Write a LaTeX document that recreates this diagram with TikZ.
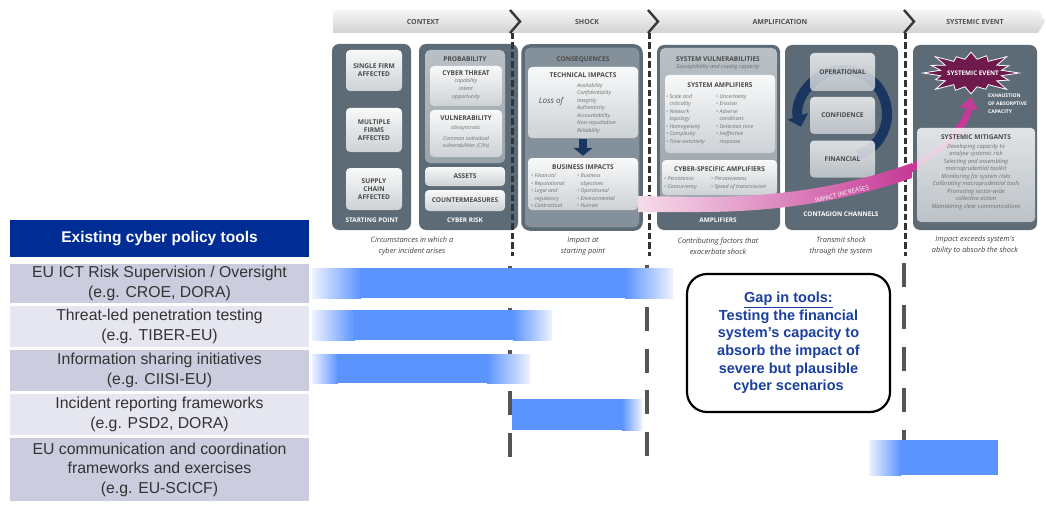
\documentclass[tikz,border=0pt]{standalone}
\usepackage{fontspec}
\setmainfont{Liberation Sans}
\newfontfamily\gf{Open Sans}
\usetikzlibrary{arrows.meta}
\definecolor{panelc}{HTML}{5C6B76}
\definecolor{p3c}{HTML}{85919A}
\definecolor{boxt}{HTML}{F8F9F9}
\definecolor{boxb}{HTML}{CDD2D6}
\definecolor{medt}{HTML}{BAC1C6}
\definecolor{medb}{HTML}{9AA3AA}
\definecolor{titc}{HTML}{4A4A4A}
\definecolor{itc}{HTML}{6E6E6E}
\definecolor{capc}{HTML}{404040}
\definecolor{hdrc}{HTML}{505050}
\definecolor{chevc}{HTML}{383838}
\definecolor{banl}{HTML}{F6F6F6}
\definecolor{band}{HTML}{D2D2D2}
\definecolor{navyc}{HTML}{1B3561}
\definecolor{starc}{HTML}{6E1A4D}
\definecolor{pinkl}{HTML}{F6DCEA}
\definecolor{pinkd}{HTML}{C63A97}
\definecolor{barc}{HTML}{5C94FF}
\definecolor{fadec}{HTML}{EEF3FF}
\definecolor{hdrblue}{HTML}{002C96}
\definecolor{rowd}{HTML}{CBCCDE}
\definecolor{rowl}{HTML}{E6E6F0}
\definecolor{rowtc}{HTML}{333333}
\definecolor{gapc}{HTML}{1A3F9E}
\definecolor{dashc}{HTML}{555555}
\definecolor{udashc}{HTML}{333333}
\begin{document}
\begin{tikzpicture}[x=1pt,y=-1pt,
  panel/.style={fill=panelc, rounded corners=7pt, inner sep=0pt},
  lbox/.style={top color=boxt, bottom color=boxb, rounded corners=4pt, inner sep=0pt},
  mbox/.style={top color=medt, bottom color=medb, rounded corners=5pt, inner sep=0pt},
  ttl/.style={font=\gf\bfseries\fontsize{6.6}{8}\selectfont, text=titc, inner sep=0pt, align=center},
  itm/.style={font=\gf\itshape\fontsize{5.3}{7.5}\selectfont, text=itc, inner sep=0pt},
  plab/.style={font=\gf\bfseries\fontsize{6.4}{7}\selectfont, text=white, inner sep=0pt},
  capt/.style={font=\gf\itshape\fontsize{7.4}{10.5}\selectfont, text=capc, align=center, inner sep=0pt},
  hdr/.style={font=\gf\bfseries\fontsize{7}{8}\selectfont, text=hdrc, inner sep=0pt},
  chev/.style={draw=chevc, line width=2.4pt},
  updash/.style={draw=udashc, line width=3pt, dash pattern=on 6.5pt off 3pt},
  rowbox/.style={inner sep=0pt, minimum width=299pt},
  rowtxt/.style={font=\fontsize{15.8}{19.5}\selectfont, text=rowtc, align=center},
  cbox/.style={lbox, fill opacity=0.82, text opacity=1, minimum width=65pt},
]
\useasboundingbox (0,0) rectangle (1046,516);
\fill[white] (0,0) rectangle (1046,516);

% ---------- banner ----------
\path[top color=banl, bottom color=band] (333,10) -- (1038,10) -- (1045,21.5) -- (1038,33) -- (333,33) -- cycle;
\draw[chev] (510,10) -- (520,21.5) -- (510,33);
\draw[chev] (648,10) -- (658,21.5) -- (648,33);
\draw[chev] (904,10) -- (914,21.5) -- (904,33);
\node[hdr] (hctx) at (423,22) {CONTEXT};
\node[hdr] (hsh) at (587,22) {SHOCK};
\node[hdr] (hamp) at (780,22) {AMPLIFICATION};
\node[hdr] (hsys) at (975,22) {SYSTEMIC EVENT};

% ---------- panel 1 ----------
\node[panel, minimum width=79pt, minimum height=186pt] (p1) at (371.5,137) {};
\node[lbox, ttl, minimum width=56pt, minimum height=41pt] (sf) at (374,70.5) {SINGLE FIRM\\AFFECTED};
\node[lbox, ttl, minimum width=56pt, minimum height=44pt] (mf) at (374,130) {MULTIPLE\\FIRMS\\AFFECTED};
\node[lbox, ttl, minimum width=56pt, minimum height=42pt] (sc) at (374,189) {SUPPLY\\CHAIN\\AFFECTED};
\node[plab] (p1l) at (372,220) {STARTING POINT};

% ---------- panel 2 ----------
\node[panel, minimum width=99pt, minimum height=186pt] (p2) at (468.5,137) {};
\node[mbox, minimum width=80pt, minimum height=113pt] (prob) at (465,106.5) {};
\node[ttl] (probt) at (465,59) {PROBABILITY};
\node[lbox, minimum width=72pt, minimum height=40pt] (ct) at (466,86) {};
\node[ttl] (ctt) at (466,73) {CYBER THREAT};
\node[itm, align=center, font=\gf\itshape\fontsize{5.3}{8}\selectfont] (cti) at (466,89) {capability\\intent\\opportunity};
\node[lbox, minimum width=72pt, minimum height=47pt] (vu) at (466,133.5) {};
\node[ttl] (vut) at (466,118) {VULNERABILITY};
\node[itm] (vu1) at (466,128) {Idiosyncratic};
\node[itm, align=center] (vu2) at (466,142.5) {Common individual\\vulnerabilities (CIVs)};
\node[lbox, ttl, minimum width=80pt, minimum height=19pt] (as) at (465,176.5) {ASSETS};
\node[lbox, ttl, minimum width=80pt, minimum height=21pt] (cm) at (465,200.5) {COUNTERMEASURES};
\node[plab] (p2l) at (465,220) {CYBER RISK};
\node[capt] (cap1) at (412,246) {Circumstances in which a\\cyber incident arises};

% ---------- panel 3 ----------
\node[panel, fill=p3c, draw=panelc, line width=3.5pt, minimum width=118pt, minimum height=183pt] (p3) at (582,137.5) {};
\node[ttl] (cons) at (583,60) {CONSEQUENCES};
\node[lbox, minimum width=110pt, minimum height=71pt] (tech) at (583,102.5) {};
\node[ttl] (techt) at (583,75) {TECHNICAL IMPACTS};
\node[font=\gf\itshape\fontsize{8}{9}\selectfont, text=titc, inner sep=0pt] (loss) at (551,101) {Loss of};
\node[itm, anchor=west, align=left] (techi) at (577,108.5) {Availability\\Confidentiality\\Integrity\\Authenticity\\Accountability\\Non-repudiation\\Reliability};
\node[lbox, minimum width=110pt, minimum height=52pt] (bus) at (583,184) {};
\node[ttl] (bust) at (583,167) {BUSINESS IMPACTS};
\node[itm, anchor=west, align=left] (busl) at (531,191) {\textbullet\ Financial\\\textbullet\ Reputational\\\textbullet\ Legal and\\\phantom{\textbullet\ }regulatory\\\textbullet\ Contractual};
\node[itm, anchor=west, align=left] (busr) at (577,191) {\textbullet\ Business\\\phantom{\textbullet\ }objectives\\\textbullet\ Operational\\\textbullet\ Environmental\\\textbullet\ Human};
\draw[navyc, line width=8pt, -{Triangle[length=8pt,width=19pt]}, shorten <=1pt, shorten >=2pt] (tech.south) -- (bus.north);
\node[capt] (cap2) at (583,246) {Impact at\\starting point};

% ---------- panel 4 ----------
\node[panel, minimum width=123pt, minimum height=185pt] (p4) at (718.5,137.5) {};
\node[mbox, minimum width=117pt, minimum height=151pt] (svr) at (718.5,123.5) {};
\node[ttl] (svrt) at (718,59) {SYSTEM VULNERABILITIES};
\node[itm, font=\gf\itshape\fontsize{5.6}{7}\selectfont] (svrs) at (718,67.5) {Susceptibility and coping capacity};
\node[lbox, minimum width=110pt, minimum height=78pt] (samp) at (720,114) {};
\node[ttl] (sampt) at (720,85) {SYSTEM AMPLIFIERS};
\node[itm, anchor=west, align=left] (sampl) at (666,119.5) {\textbullet\ Scale and\\\phantom{\textbullet\ }criticality\\\textbullet\ Network\\\phantom{\textbullet\ }topology\\\textbullet\ Homogeneity\\\textbullet\ Complexity\\\textbullet\ Time sensitivity};
\node[itm, anchor=west, align=left] (sampr) at (716,119.5) {\textbullet\ Uncertainty\\\textbullet\ Erosion\\\textbullet\ Adverse\\\phantom{\textbullet\ }conditions\\\textbullet\ Detection time\\\textbullet\ Ineffective\\\phantom{\textbullet\ }response};
\node[lbox, minimum width=115pt, minimum height=35pt] (csa) at (719.5,177.5) {};
\node[ttl] (csat) at (719.5,169) {CYBER-SPECIFIC AMPLIFIERS};
\node[itm, anchor=west, align=left] (csal) at (664,183) {\textbullet\ Persistence\\\textbullet\ Concurrency};
\node[itm, anchor=west, align=left] (csar) at (711,183) {\textbullet\ Pervasiveness\\\textbullet\ Speed of transmission};
\node[plab] (p4l) at (718,220) {AMPLIFIERS};
\node[capt] (cap3) at (718,246) {Contributing factors that\\exacerbate shock};

% ---------- panel 5 ----------
\node[panel, minimum width=113pt, minimum height=185pt] (p5) at (841.5,137.5) {};
\coordinate (rc) at (843,114);
\draw[navyc, line width=10pt, -{Triangle[length=11pt,width=21pt]}] (rc) ++(70:44) arc[start angle=70, end angle=-197, radius=44];
\node[cbox, ttl, minimum height=38pt] (op) at (842.5,72) {OPERATIONAL};
\node[cbox, ttl, minimum height=37pt] (conf) at (842.5,115.5) {CONFIDENCE};
\node[cbox, ttl, minimum height=37pt] (fin) at (842.5,159) {FINANCIAL};
\node[plab] (p5l) at (841,214) {CONTAGION CHANNELS};
\node[capt] (cap4) at (841,246) {Transmit shock\\through the system};

% ---------- panel 6 ----------
\node[panel, minimum width=124pt, minimum height=185pt] (p6) at (975,137.5) {};
\path[fill=starc, draw=white, line width=0.8pt] ({971+31*cos(-11.25)},{73+14*sin(-11.25)})
  \foreach \k [count=\i from 0] in {1.0,0.85,1.05,0.8,0.95,0.85,1.05,0.8,1.0,0.9,1.05,0.8,0.95,0.85,1.05,0.85}
  { -- ({971+48*\k*cos(\i*22.5)},{73+22*\k*sin(\i*22.5)}) -- ({971+31*cos(\i*22.5+11.25)},{73+14*sin(\i*22.5+11.25)}) } -- cycle;
\node[plab, font=\gf\bfseries\fontsize{6.3}{7}\selectfont] (sev) at (973,73) {SYSTEMIC EVENT};
\node[plab, font=\gf\bfseries\fontsize{5}{8}\selectfont, anchor=north west, align=left] (exh) at (988,94) {EXHAUSTION\\OF ABSORPTIVE\\CAPACITY};

% ---------- upper dashed separators ----------
\draw[updash] (512,33) -- (512,256);
\draw[updash] (649,33) -- (649,256);
\draw[updash] (905,33) -- (905,256);

% ---------- impact band ----------
\path[left color=pinkl, right color=pinkd] (638,196) -- (700,197) .. controls (770,197) and (840,189) .. (912,163) -- (912,178) .. controls (840,203) and (770,212) .. (700,212) -- (638,212) -- cycle;
\coordinate (shs) at (906,172);
\coordinate (she) at (971,97);
\draw[pinkd, line width=7pt, -{Triangle[length=12pt,width=18pt]}] (shs) .. controls (938,152) and (965,130) .. (she);
\node[font=\gf\fontsize{6.2}{7}\selectfont, text=white, rotate=14, inner sep=0pt] (imp) at (842,194) {IMPACT INCREASES};

% mitigants box over the shaft
\node[lbox, fill opacity=0.85, minimum width=118pt, minimum height=94pt] (mit) at (976,175) {};
\node[ttl] (mitt) at (976,137) {SYSTEMIC MITIGANTS};
\node[itm, align=center, font=\gf\itshape\fontsize{5.8}{7.5}\selectfont] (miti) at (976,176.5) {Developing capacity to\\analyse systemic risk\\Selecting and assembling\\macroprudential toolkit\\Monitoring for system risks\\Calibrating macroprudential tools\\Promoting sector-wide\\collective action\\Maintaining clear communications};
\node[capt] (cap5) at (975,245) {Impact exceeds system's\\ability to absorb the shock};

% ---------- lower dashed separators (thick dashes) ----------
\foreach \yy in {0,...,4} {
  \fill[dashc] (507.75,{266+41.8*\yy}) rectangle (512.25,{290+41.8*\yy});
  \fill[dashc] (644.75,{265+41.8*\yy}) rectangle (649.25,{289+41.8*\yy});
  \fill[dashc] (901.75,{263+41.8*\yy}) rectangle (906.25,{287+41.8*\yy});
}

% ---------- bars ----------
\fill[left color=fadec, right color=barc] (312,268) rectangle (361,298);
\fill[barc] (360,268) rectangle (626,298);
\fill[left color=barc, right color=fadec] (625,268) rectangle (673,298);
\fill[left color=fadec, right color=barc] (312,310) rectangle (355,340);
\fill[barc] (354,310) rectangle (514,340);
\fill[left color=barc, right color=fadec] (513,310) rectangle (552,340);
\fill[left color=fadec, right color=barc] (312,354) rectangle (338,383);
\fill[barc] (337,354) rectangle (488,383);
\fill[left color=barc, right color=fadec] (487,354) rectangle (530,383);
\fill[barc] (512,399) rectangle (623,430);
\fill[left color=barc, right color=fadec] (622,399) rectangle (642,430);
\fill[left color=fadec, right color=barc] (869,440) rectangle (901,475);
\fill[barc] (900,440) rectangle (998,475);

% ---------- table ----------
\node[rowbox, fill=hdrblue, minimum height=37pt, font=\bfseries\fontsize{15.5}{18}\selectfont, text=white] (th) at (159.5,238.5) {Existing cyber policy tools};
\node[rowbox, fill=rowd, minimum height=39pt, rowtxt] (r1) at (159.5,283.5) {EU ICT Risk Supervision / Oversight\\(e.g. CROE, DORA)};
\node[rowbox, fill=rowl, minimum height=41pt, rowtxt] (r2) at (159.5,326.5) {Threat-led penetration testing\\(e.g. TIBER-EU)};
\node[rowbox, fill=rowd, minimum height=41pt, rowtxt] (r3) at (159.5,370.5) {Information sharing initiatives\\(e.g. CIISI-EU)};
\node[rowbox, fill=rowl, minimum height=41pt, rowtxt] (r4) at (159.5,414.5) {Incident reporting frameworks\\(e.g. PSD2, DORA)};
\node[rowbox, fill=rowd, minimum height=63pt, rowtxt] (r5) at (159.5,469.5) {EU communication and coordination\\frameworks and exercises\\(e.g. EU-SCICF)};

% ---------- gap box ----------
\node[draw=black, line width=2.2pt, fill=white, rounded corners=20pt, minimum width=203pt, minimum height=138pt] (gap) at (788.5,343) {};
\node[font=\bfseries\fontsize{14.5}{17.6}\selectfont, text=gapc, align=center, inner sep=0pt] (gapt) at (788.5,343) {\underline{Gap in tools:}\\Testing the financial\\system’s capacity to\\absorb the impact of\\severe but plausible\\cyber scenarios};
\end{tikzpicture}
\end{document}
